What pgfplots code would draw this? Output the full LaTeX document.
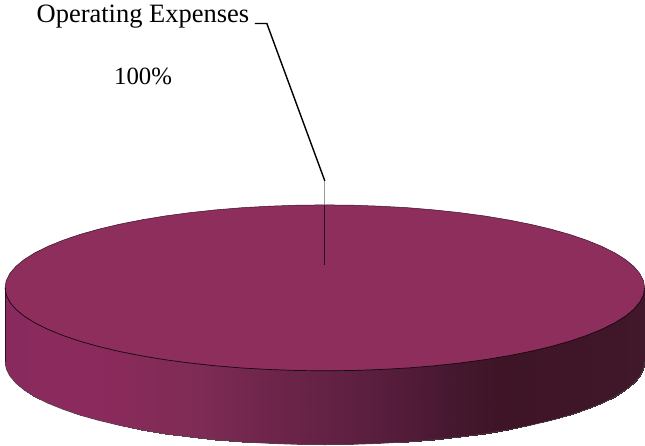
\documentclass[border=0pt]{standalone}
\usepackage{pgfplots}
\pgfplotsset{compat=1.18}
\usepackage{fontspec}
\setmainfont{Liberation Serif}

\definecolor{pietop}{RGB}{141,46,92}

% front wall of the disc: upper edge (tucked 3 units under the top face) and lower edge
\pgfplotstableread{
x y
5 288
6.2 292.2
9.9 299.4
15.9 306.5
24.3 313.4
35 320.1
47.9 326.5
62.9 332.6
79.9 338.4
98.7 343.7
119.3 348.6
141.5 353
165 356.9
189.8 360.2
215.6 363
242.2 365.2
269.4 366.7
297.1 367.7
325 368
352.9 367.7
380.6 366.7
407.8 365.2
434.4 363
460.2 360.2
485 356.9
508.5 353
530.7 348.6
551.3 343.7
570.1 338.4
587.1 332.6
602.1 326.5
615 320.1
625.7 313.4
634.1 306.5
640.1 299.4
643.8 292.2
645 288
5 362
6.2 369.2
9.9 376.4
15.9 383.5
24.3 390.4
35 397.1
47.9 403.5
62.9 409.6
79.9 415.4
98.7 420.7
119.3 425.6
141.5 430
165 433.9
189.8 437.2
215.6 440
242.2 442.2
269.4 443.7
297.1 444.7
325 445
352.9 444.7
380.6 443.7
407.8 442.2
434.4 440
460.2 437.2
485 433.9
508.5 430
530.7 425.6
551.3 420.7
570.1 415.4
587.1 409.6
602.1 403.5
615 397.1
625.7 390.4
634.1 383.5
640.1 376.4
643.8 369.2
645 362
}\sidewall

\begin{document}
\begin{tikzpicture}
\begin{axis}[
    scale only axis,
    width=645pt,
    height=445pt,
    xmin=0, xmax=645,
    ymin=0, ymax=445,
    y dir=reverse,
    hide axis,
    clip=false,
    colormap={sidecm}{
        rgb255(5pt)=(137,42,94)
        rgb255(100pt)=(139,42,92)
        rgb255(200pt)=(126,44,85)
        rgb255(260pt)=(112,38,76)
        rgb255(325pt)=(100,34,68)
        rgb255(400pt)=(84,28,58)
        rgb255(450pt)=(70,24,48)
        rgb255(500pt)=(62,20,38)
        rgb255(645pt)=(64,24,42)
    },
]
% hide axis leaves only the drawn content in the bounding box, so pin the page
\path (axis cs:0,0) rectangle (axis cs:645,445);

% side
\addplot[surf, shader=interp, mesh/cols=37, point meta=x,
    point meta min=5, point meta max=645] table {\sidewall};

% top face
\addplot[fill=pietop, draw=none] coordinates {
    (645,288) (643.8,295.2) (640.1,302.4) (634.1,309.5) (625.7,316.4) (615,323.1)
    (602.1,329.5) (587.1,335.6) (570.1,341.4) (551.3,346.7) (530.7,351.6) (508.5,356)
    (485,359.9) (460.2,363.2) (434.4,366) (407.8,368.2) (380.6,369.7) (352.9,370.7)
    (325,371) (297.1,370.7) (269.4,369.7) (242.2,368.2) (215.6,366) (189.8,363.2)
    (165,359.9) (141.5,356) (119.3,351.6) (98.7,346.7) (79.9,341.4) (62.9,335.6)
    (47.9,329.5) (35,323.1) (24.3,316.4) (15.9,309.5) (9.9,302.4) (6.2,295.2)
    (5,288) (6.2,280.8) (9.9,273.6) (15.9,266.5) (24.3,259.6) (35,252.9)
    (47.9,246.5) (62.9,240.4) (79.9,234.6) (98.7,229.3) (119.3,224.4) (141.5,220)
    (165,216.1) (189.8,212.8) (215.6,210) (242.2,207.8) (269.4,206.3) (297.1,205.3)
    (325,205) (352.9,205.3) (380.6,206.3) (407.8,207.8) (434.4,210) (460.2,212.8)
    (485,216.1) (508.5,220) (530.7,224.4) (551.3,229.3) (570.1,234.6) (587.1,240.4)
    (602.1,246.5) (615,252.9) (625.7,259.6) (634.1,266.5) (640.1,273.6) (643.8,280.8)
    (645,288)
};

% rim of the top face, front part dark
\addplot[draw=black!85!pietop, line width=0.7pt] coordinates {
    (645,288) (643.8,295.2) (640.1,302.4) (634.1,309.5) (625.7,316.4) (615,323.1)
    (602.1,329.5) (587.1,335.6) (570.1,341.4) (551.3,346.7) (530.7,351.6) (508.5,356)
    (485,359.9) (460.2,363.2) (434.4,366) (407.8,368.2) (380.6,369.7) (352.9,370.7)
    (325,371) (297.1,370.7) (269.4,369.7) (242.2,368.2) (215.6,366) (189.8,363.2)
    (165,359.9) (141.5,356) (119.3,351.6) (98.7,346.7) (79.9,341.4) (62.9,335.6)
    (47.9,329.5) (35,323.1) (24.3,316.4) (15.9,309.5) (9.9,302.4) (6.2,295.2) (5,288)
};
% rim, back part
\addplot[draw=black!60!pietop, line width=0.5pt] coordinates {
    (5,288) (6.2,280.8) (9.9,273.6) (15.9,266.5) (24.3,259.6) (35,252.9)
    (47.9,246.5) (62.9,240.4) (79.9,234.6) (98.7,229.3) (119.3,224.4) (141.5,220)
    (165,216.1) (189.8,212.8) (215.6,210) (242.2,207.8) (269.4,206.3) (297.1,205.3)
    (325,205) (352.9,205.3) (380.6,206.3) (407.8,207.8) (434.4,210) (460.2,212.8)
    (485,216.1) (508.5,220) (530.7,224.4) (551.3,229.3) (570.1,234.6) (587.1,240.4)
    (602.1,246.5) (615,252.9) (625.7,259.6) (634.1,266.5) (640.1,273.6) (643.8,280.8)
    (645,288)
};
% bottom edge and the left wall edge
\addplot[draw=black!70, line width=0.5pt] coordinates {
    (5,362) (6.2,369.2) (9.9,376.4) (15.9,383.5) (24.3,390.4) (35,397.1)
    (47.9,403.5) (62.9,409.6) (79.9,415.4) (98.7,420.7) (119.3,425.6) (141.5,430)
    (165,433.9) (189.8,437.2) (215.6,440) (242.2,442.2) (269.4,443.7) (297.1,444.7)
    (325,445) (352.9,444.7) (380.6,443.7) (407.8,442.2) (434.4,440) (460.2,437.2)
    (485,433.9) (508.5,430) (530.7,425.6) (551.3,420.7) (570.1,415.4) (587.1,409.6)
    (602.1,403.5) (615,397.1) (625.7,390.4) (634.1,383.5) (640.1,376.4) (643.8,369.2)
    (645,362)
};
\addplot[draw=black!70!pietop, line width=0.5pt] coordinates {(5,288) (5,362)};

% leader line
\addplot[draw=black, line width=1.4pt] coordinates {(255,23.5) (267,23.5) (325,181)};
\addplot[draw=black!40, line width=1.2pt] coordinates {(325,181) (325,205)};
\addplot[draw=black!70!pietop, line width=1.2pt] coordinates {(325,205) (325,265)};

\node[anchor=base west, font=\fontsize{26.5}{30}\selectfont, inner sep=0pt]
    at (axis cs:36.5,23) {Operating Expenses};
\node[anchor=base west, font=\fontsize{24.8}{30}\selectfont, inner sep=0pt]
    at (axis cs:114,85) {100\%};
\end{axis}
\end{tikzpicture}
\end{document}
